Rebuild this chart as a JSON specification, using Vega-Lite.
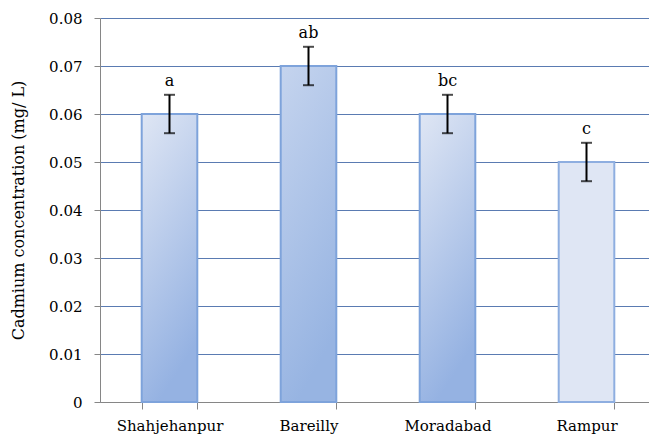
{
  "$schema": "https://vega.github.io/schema/vega-lite/v6.json",
  "autosize": {"type": "none"},
  "padding": {"left": 100, "top": 18, "right": 0, "bottom": 33},
  "width": 549,
  "height": 384,
  "background": "white",
  "config": {
    "view": {"stroke": null},
    "font": "DejaVu Serif",
    "axis": {"labelFont": "DejaVu Serif", "titleFont": "DejaVu Serif", "labelColor": "black", "titleColor": "black", "labelFontSize": 15, "titleFontSize": 16, "titleFontWeight": "normal"}
  },
  "data": {
    "values": [
      {"district": "Shahjehanpur", "cd": 0.06, "lo": 0.056, "hi": 0.064, "letter": "a"},
      {"district": "Bareilly", "cd": 0.07, "lo": 0.066, "hi": 0.074, "letter": "ab"},
      {"district": "Moradabad", "cd": 0.06, "lo": 0.056, "hi": 0.064, "letter": "bc"},
      {"district": "Rampur", "cd": 0.05, "lo": 0.046, "hi": 0.054, "letter": "c"}
    ]
  },
  "encoding": {
    "x": {
      "field": "district", "type": "nominal", "sort": ["Shahjehanpur", "Bareilly", "Moradabad", "Rampur"],
      "scale": {"range": [0, 556], "paddingInner": 0.6, "paddingOuter": 0.3},
      "axis": {"title": null, "labelAngle": 0, "tickBand": "extent", "labelPadding": 9, "tickSize": 7, "domainColor": "#868686", "tickColor": "#868686", "grid": false}
    }
  },
  "layer": [
    {
      "transform": [{"filter": "datum.district == 'Shahjehanpur' || datum.district == 'Moradabad'"}],
      "mark": {"type": "bar", "stroke": "#7ea3db", "strokeWidth": 2,
        "fill": {"gradient": "linear", "x1": 0, "y1": 0, "x2": 0.3, "y2": 1,
          "stops": [{"offset": 0, "color": "#dfe6f4"}, {"offset": 1, "color": "#95b2e2"}]}},
      "encoding": {
        "y": {"field": "cd", "type": "quantitative",
          "scale": {"domain": [0, 0.08]},
          "axis": {"title": "Cadmium concentration (mg/ L)", "values": [0, 0.01, 0.02, 0.03, 0.04, 0.05, 0.06, 0.07, 0.08],
            "labelExpr": "datum.value == 0 ? '0' : format(datum.value, '.2f')", "labelFontSize": 15,
            "gridColor": "#5a7bb2", "gridWidth": 1.2, "domainColor": "#868686", "tickColor": "#868686", "tickSize": 6, "labelPadding": 12, "titlePadding": 22}}
      }
    },
    {
      "transform": [{"filter": "datum.district == 'Bareilly'"}],
      "mark": {"type": "bar", "stroke": "#7ea3db", "strokeWidth": 2,
        "fill": {"gradient": "linear", "x1": 0, "y1": 0, "x2": 0.3, "y2": 1,
          "stops": [{"offset": 0, "color": "#c5d4ee"}, {"offset": 1, "color": "#97b4e2"}]}},
      "encoding": {"y": {"field": "cd", "type": "quantitative"}}
    },
    {
      "transform": [{"filter": "datum.district == 'Rampur'"}],
      "mark": {"type": "bar", "stroke": "#8eaee0", "strokeWidth": 2, "fill": "#dfe6f4"},
      "encoding": {"y": {"field": "cd", "type": "quantitative"}}
    },
    {
      "mark": {"type": "rule", "color": "black", "strokeWidth": 2},
      "encoding": {"y": {"field": "lo", "type": "quantitative"}, "y2": {"field": "hi"}}
    },
    {
      "mark": {"type": "tick", "color": "black", "size": 11, "thickness": 2},
      "encoding": {"y": {"field": "lo", "type": "quantitative"}}
    },
    {
      "mark": {"type": "tick", "color": "black", "size": 11, "thickness": 2},
      "encoding": {"y": {"field": "hi", "type": "quantitative"}}
    },
    {
      "mark": {"type": "text", "font": "DejaVu Serif", "fontSize": 16, "color": "black", "dy": -6, "baseline": "bottom"},
      "encoding": {"y": {"field": "hi", "type": "quantitative"}, "text": {"field": "letter"}}
    }
  ]
}
